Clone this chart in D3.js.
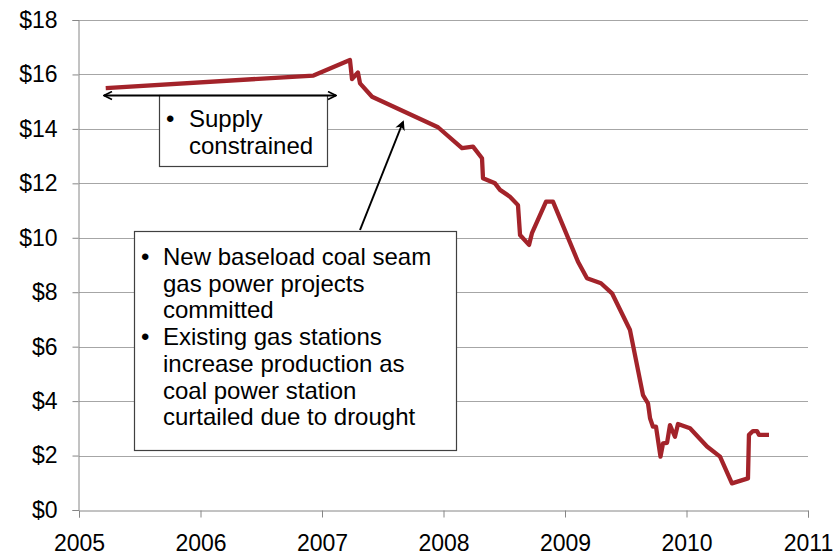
<!DOCTYPE html>
<html>
<head>
<meta charset="utf-8">
<script src="https://cdn.jsdelivr.net/npm/d3@7"></script>
<style>
  body { margin: 0; background: #fff; }
  svg { display: block; font-family: "Liberation Sans", Arial, sans-serif; }
</style>
</head>
<body>
<div id="chart"></div>
<script>
// price series, x as decimal year
var years = [2005.22, 2006.93, 2007.23, 2007.247, 2007.296, 2007.313, 2007.412, 2007.955,
  2008.152, 2008.243, 2008.317, 2008.325, 2008.424, 2008.465, 2008.547, 2008.613, 2008.63,
  2008.704, 2008.728, 2008.844, 2008.901, 2009.107, 2009.181, 2009.296, 2009.387, 2009.535,
  2009.642, 2009.683, 2009.70, 2009.724, 2009.749, 2009.786, 2009.807, 2009.84, 2009.864,
  2009.905, 2009.93, 2010.029, 2010.169, 2010.276, 2010.374, 2010.506, 2010.514, 2010.547,
  2010.58, 2010.597, 2010.679];
var prices = [15.5, 15.96, 16.53, 15.83, 16.07, 15.67, 15.18, 14.06,
  13.29, 13.35, 12.92, 12.19, 12.0, 11.76, 11.51, 11.2, 10.1,
  9.74, 10.17, 11.33, 11.33, 9.12, 8.51, 8.33, 7.96, 6.61,
  4.22, 3.92, 3.37, 3.06, 3.06, 1.96, 2.45, 2.47, 3.12,
  2.69, 3.16, 3.0, 2.33, 1.96, 0.98, 1.16, 2.76, 2.9,
  2.9, 2.76, 2.76];
var yTicks = [0, 2, 4, 6, 8, 10, 12, 14, 16, 18];
var xTicks = [2005, 2006, 2007, 2008, 2009, 2010, 2011];

var supplyText = ["Supply", "constrained"];
var newText = [
  ["New baseload coal seam", "gas power projects", "committed"],
  ["Existing gas stations", "increase production as", "coal power station", "curtailed due to drought"]
];

var W = 834, H = 556;
var margin = {left: 79, right: 26, top: 20, bottom: 46};

var svg = d3.select("#chart").append("svg")
  .attr("width", W).attr("height", H);

var x = d3.scaleLinear().domain([2005, 2011]).range([margin.left, W - margin.right]);
var y = d3.scaleLinear().domain([0, 18]).range([H - margin.bottom, margin.top]);

// gridlines
svg.append("g")
  .selectAll("line")
  .data(yTicks.filter(function(d) { return d > 0; }))
  .enter().append("line")
  .attr("x1", x(2005)).attr("x2", x(2011))
  .attr("y1", function(d) { return Math.round(y(d)) + 0.5; })
  .attr("y2", function(d) { return Math.round(y(d)) + 0.5; })
  .attr("stroke", "#a6a6a6").attr("stroke-width", 1);

// axes
var yAxis = svg.append("g")
  .attr("transform", "translate(" + (Math.round(x(2005)) - 0.5) + ",0)")
  .call(d3.axisLeft(y).tickValues(yTicks).tickSize(6).tickPadding(15)
    .tickFormat(function(d) { return "$" + d; }));
var xAxis = svg.append("g")
  .attr("transform", "translate(0," + (Math.round(y(0)) + 0.5) + ")")
  .call(d3.axisBottom(x).tickValues(xTicks).tickSize(7).tickPadding(17)
    .tickFormat(d3.format("d")));

[yAxis, xAxis].forEach(function(a) {
  a.select(".domain").attr("stroke", "#868686");
  a.selectAll(".tick line").attr("stroke", "#868686");
  a.selectAll("text").attr("font-size", 23).attr("fill", "#000")
    .attr("font-family", "Liberation Sans, Arial, sans-serif");
});

// price line
var line = d3.line()
  .x(function(d, i) { return x(years[i]); })
  .y(function(d) { return y(d); });

svg.append("path")
  .datum(prices)
  .attr("d", line)
  .attr("fill", "none")
  .attr("stroke", "#a3232a")
  .attr("stroke-width", 4.3)
  .attr("stroke-linejoin", "round");

// annotations
var defs = svg.append("defs");
defs.append("marker")
  .attr("id", "chev")
  .attr("viewBox", "0 0 10 10")
  .attr("refX", 9).attr("refY", 5)
  .attr("markerWidth", 5).attr("markerHeight", 5)
  .attr("markerUnits", "strokeWidth")
  .attr("orient", "auto-start-reverse")
  .append("path")
  .attr("d", "M1,1 L9,5 L1,9")
  .attr("fill", "none").attr("stroke", "#000").attr("stroke-width", 1.6);
defs.append("marker")
  .attr("id", "tri")
  .attr("viewBox", "0 0 10 10")
  .attr("refX", 8).attr("refY", 5)
  .attr("markerWidth", 6).attr("markerHeight", 5)
  .attr("markerUnits", "strokeWidth")
  .attr("orient", "auto")
  .append("path")
  .attr("d", "M0,0 L10,5 L0,10 L3,5 Z")
  .attr("fill", "#000");

// supply constrained box
svg.append("rect")
  .attr("x", 159.5).attr("y", 95.5).attr("width", 168).attr("height", 71)
  .attr("fill", "#fff").attr("stroke", "#404040").attr("stroke-width", 1.2);
svg.append("line")
  .attr("x1", 104).attr("y1", 95.5).attr("x2", 336).attr("y2", 95.5)
  .attr("stroke", "#000").attr("stroke-width", 2)
  .attr("marker-start", "url(#chev)").attr("marker-end", "url(#chev)");
var g1 = svg.append("g").attr("font-size", 24);
g1.append("text").attr("x", 166).attr("y", 126.5).text("•");
supplyText.forEach(function(t, i) {
  g1.append("text").attr("x", 189).attr("y", 126.5 + i * 27).text(t);
});

// new baseload box
svg.append("line")
  .attr("x1", 360).attr("y1", 230).attr("x2", 403).attr("y2", 122)
  .attr("stroke", "#000").attr("stroke-width", 2)
  .attr("marker-end", "url(#tri)");
svg.append("rect")
  .attr("x", 134.5).attr("y", 231.5).attr("width", 322).attr("height", 219)
  .attr("fill", "#fff").attr("stroke", "#404040").attr("stroke-width", 1.2);
var g2 = svg.append("g").attr("font-size", 24);
var row = 0;
newText.forEach(function(item) {
  g2.append("text").attr("x", 141).attr("y", 265 + row * 26.7).text("•");
  item.forEach(function(t) {
    g2.append("text").attr("x", 163).attr("y", 265 + row * 26.7).text(t);
    row++;
  });
});
</script>
</body>
</html>
